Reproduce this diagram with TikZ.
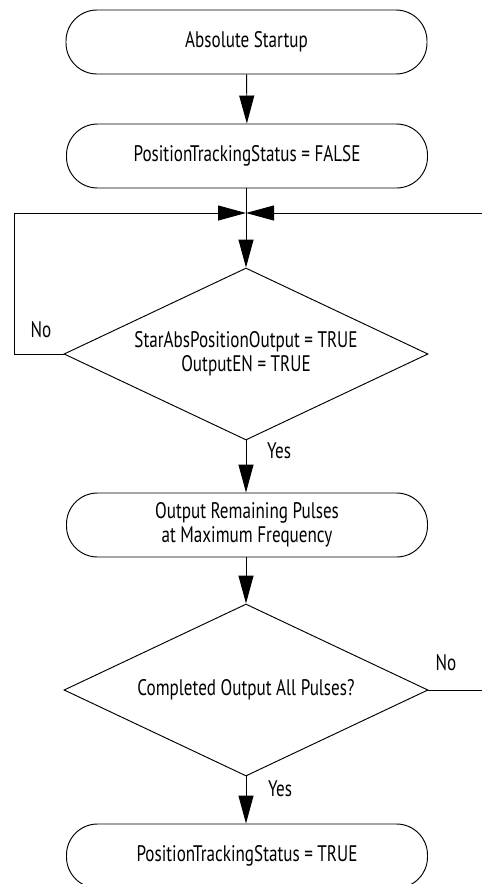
\documentclass[tikz,border=0pt]{standalone}
\usepackage{fontspec}
\setmainfont[FakeStretch=0.76]{PT Sans}
\usetikzlibrary{arrows.meta,shapes.geometric}
\begin{document}
\begin{tikzpicture}[x=1pt,y=-1pt,
  every node/.style={font=\fontsize{22.5}{26}\selectfont},
  term/.style={draw,line width=0.95pt,rectangle,rounded corners=31pt,minimum width=361pt,minimum height=64pt,inner sep=0pt,align=center},
  dec/.style={draw,line width=0.95pt,diamond,aspect=2.116,minimum width=364pt,minimum height=172pt,inner sep=0pt,align=center},
  conn/.style={line width=0.95pt,-{Triangle[length=28pt,width=15pt]}},
  lbl/.style={inner sep=0pt}]
\useasboundingbox (0,0) rectangle (482,884);
\clip (0,0) rectangle (482,884);
\node[term] (b1) at (246.5,42) {Absolute Startup};
\node[term] (b2) at (247,156) {PositionTrackingStatus = FALSE};
\node[dec] (d1) at (246,354) {StarAbsPositionOutput = TRUE\\[-2pt]OutputEN = TRUE};
\node[term] (b3) at (247,525) {Output Remaining Pulses\\[-2pt]at Maximum Frequency};
\node[dec] (d2) at (246,690) {Completed Output All Pulses?};
\node[term] (b4) at (247,856) {PositionTrackingStatus = TRUE};
\coordinate (j) at (246,213);
\coordinate (lc) at (14,354);
\coordinate (rc) at (500,690);
\draw[conn] (b1) -- (b2);
\draw[conn] (b2.south -| d1.north) -- (d1.north);
\draw[conn] (d1.west) -- (lc) |- (j);
\draw[conn] (d2.east) -- (rc) |- (j);
\draw[conn] (d1.south) -- (b3.north -| d1.south);
\draw[conn] (b3.south -| d2.north) -- (d2.north);
\draw[conn] (d2.south) -- (b4.north -| d2.south);
\node[lbl] (n1) at (41,330) {No};
\node[lbl] (y1) at (279,451) {Yes};
\node[lbl] (n2) at (446,663) {No};
\node[lbl] (y2) at (280,789) {Yes};
\end{tikzpicture}
\end{document}
